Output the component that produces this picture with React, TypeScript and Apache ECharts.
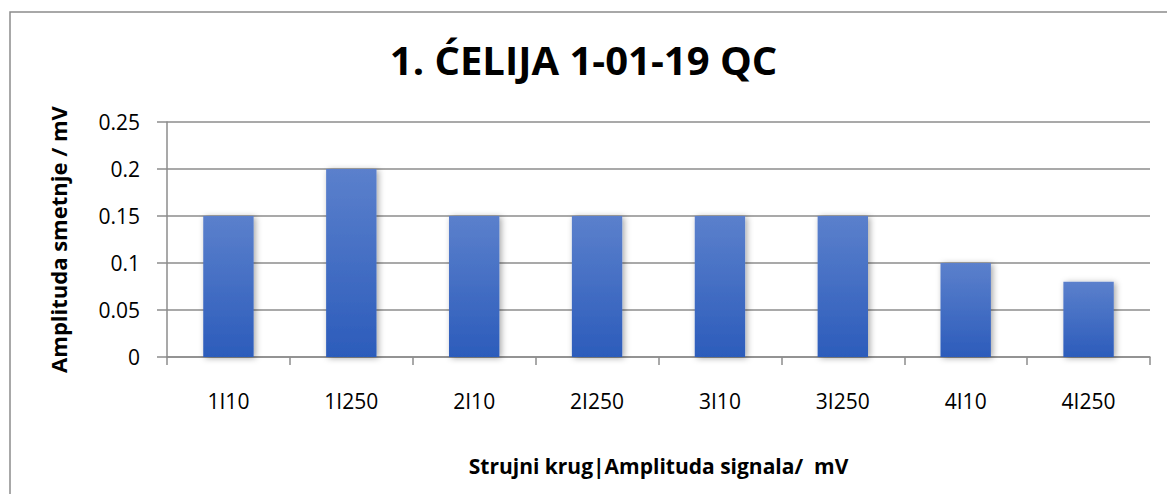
import React, { useEffect, useRef } from "react";
import * as echarts from "echarts";

const categories = ["1I10", "1I250", "2I10", "2I250", "3I10", "3I250", "4I10", "4I250"];
const values = [0.15, 0.2, 0.15, 0.15, 0.15, 0.15, 0.1, 0.08];
const yTicks = [0, 0.05, 0.1, 0.15, 0.2, 0.25];
const title = "1. ĆELIJA 1-01-19 QC";
const yName = "Amplituda smetnje / mV";
const xName = "Strujni krug|Amplituda signala/  mV";

export default function App() {
  const ref = useRef<HTMLDivElement>(null);
  useEffect(() => {
    const chart = echarts.init(ref.current!, null, { renderer: "svg" });
    const font = "'Open Sans', 'Noto Sans', sans-serif";
    chart.setOption({
      animation: false,
      backgroundColor: "#fff",
      graphic: [
        {
          type: "rect",
          shape: { x: 10, y: 12, width: 1200, height: 520 },
          style: { fill: "none", stroke: "#8c8c8c", lineWidth: 1.5 },
          silent: true,
        },
      ],
      title: {
        text: title,
        left: "center",
        top: 34,
        textStyle: { fontFamily: font, fontWeight: "bold", fontSize: 40, color: "#000" },
      },
      grid: { left: 167, right: 17, top: 122, bottom: 137, containLabel: false },
      xAxis: {
        type: "category",
        data: categories,
        name: xName,
        nameLocation: "middle",
        nameGap: 98,
        nameTextStyle: { fontFamily: font, fontWeight: "bold", fontSize: 21, color: "#000" },
        axisLine: { lineStyle: { color: "#8c8c8c", width: 1.5 } },
        axisTick: { show: true, length: 8, lineStyle: { color: "#8c8c8c", width: 1.5 } },
        axisLabel: { fontFamily: font, fontSize: 21, color: "#000", margin: 33 },
      },
      yAxis: {
        type: "value",
        min: yTicks[0],
        max: yTicks[yTicks.length - 1],
        interval: 0.05,
        name: yName,
        nameLocation: "middle",
        nameGap: 98,
        nameTextStyle: { fontFamily: font, fontWeight: "bold", fontSize: 22, color: "#000" },
        axisLine: { show: true, lineStyle: { color: "#8c8c8c", width: 1.5 } },
        axisTick: { show: true, length: 10, lineStyle: { color: "#8c8c8c", width: 1.5 } },
        axisLabel: {
          fontFamily: font,
          fontSize: 21,
          color: "#000",
          margin: 27,
          formatter: (v: number) => String(parseFloat(v.toFixed(2))),
        },
        splitLine: { lineStyle: { color: "#8c8c8c", width: 1.5 } },
      },
      series: [
        {
          type: "bar",
          data: values,
          barWidth: "41%",
          itemStyle: {
            color: new echarts.graphic.LinearGradient(0, 0, 0, 1, [
              { offset: 0, color: "#5b80cc" },
              { offset: 1, color: "#2c5cbb" },
            ]),
            shadowColor: "rgba(0,0,0,0.35)",
            shadowBlur: 6,
            shadowOffsetX: 2,
            shadowOffsetY: 1,
          },
        },
      ],
    });
    return () => chart.dispose();
  }, []);
  return <div ref={ref} style={{ width: 1167, height: 494, position: "absolute", left: 0, top: 0 }} />;
}
